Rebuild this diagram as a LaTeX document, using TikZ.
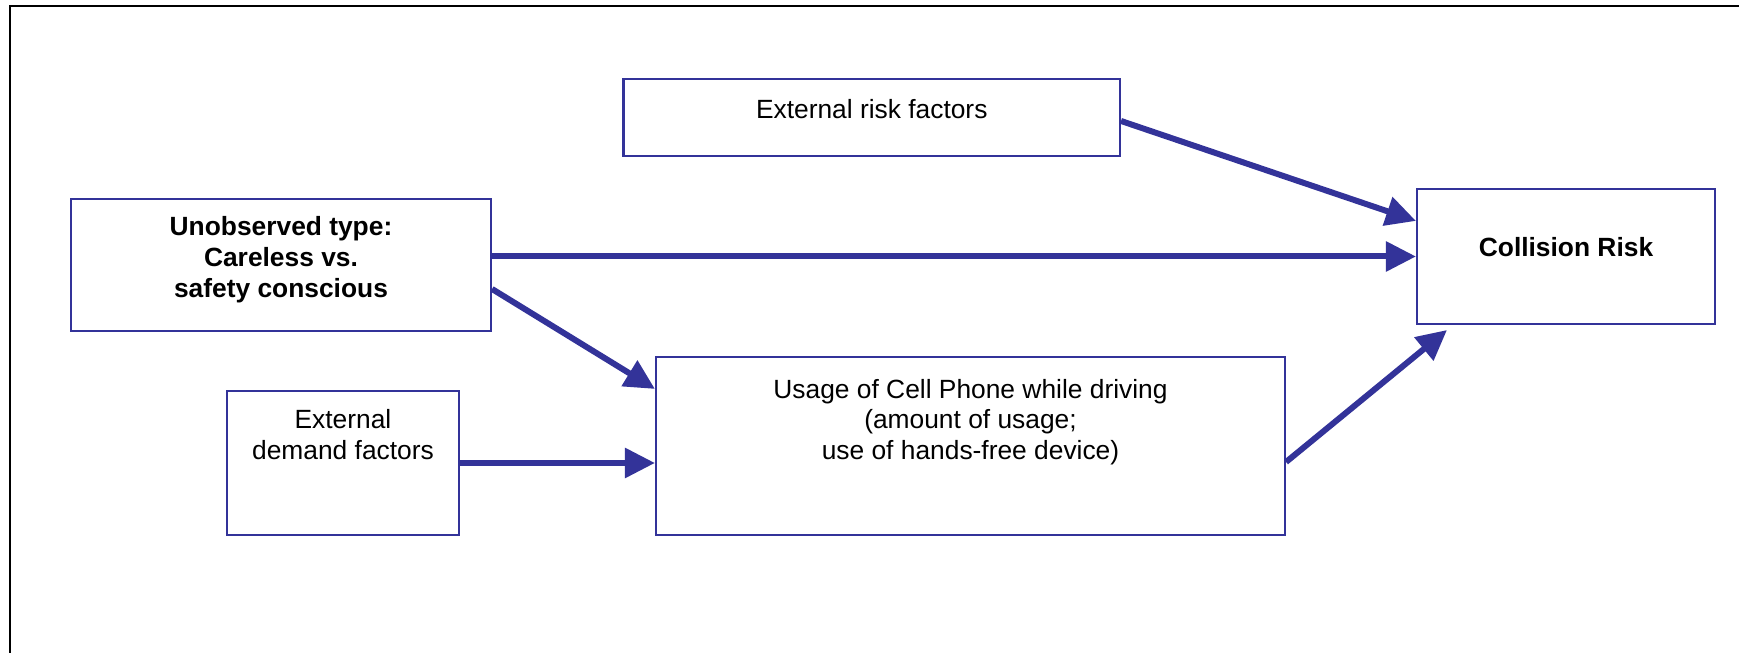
\documentclass[tikz,border=0pt]{standalone}
\usepackage{fontspec}
\setmainfont{Liberation Sans}
\usetikzlibrary{arrows.meta}
\definecolor{diagblue}{RGB}{51,51,153}

\begin{document}
\begin{tikzpicture}[
  factor/.style={draw=diagblue,line width=1.2pt,align=center,inner sep=0pt,
    font=\fontsize{15}{17.5}\selectfont},
  keyfactor/.style={factor,font=\fontsize{15}{17.5}\selectfont\bfseries},
  link/.style={color=diagblue,line width=3.4pt,-{Triangle[length=0.6cm,width=0.58cm]}}]

  \useasboundingbox (0,0) rectangle (34.78,13.06);
  \draw[line width=1.4pt] (0.2,0) -- (0.2,12.94) -- (34.78,12.94);

  \node[keyfactor,minimum width=8.4cm,minimum height=2.64cm,text height=1.65cm,text depth=0.36cm] at (5.62,7.76) (unobs) {Unobserved type:\\Careless vs.\\safety conscious};
  \node[factor,minimum width=9.93cm,minimum height=1.54cm,text height=0.45cm,text depth=0.41cm] at (17.435,10.71) (risk) {External risk factors};
  \node[keyfactor,minimum width=5.96cm,minimum height=2.7cm,text height=0.42cm,text depth=0.4cm] at (31.32,7.93) (coll) {Collision Risk};
  \node[factor,minimum width=4.64cm,minimum height=2.88cm,text height=1.0cm,text depth=1.15cm] at ([xshift=1.24cm,yshift=-3.96cm]unobs) (demand) {External\\demand factors};
  \node[factor,minimum width=12.58cm,minimum height=3.56cm,text height=1.5cm,text depth=0.95cm] at (19.41,4.14) (usage) {Usage of Cell Phone while driving\\(amount of usage;\\use of hands-free device)};

  \draw[link] ([yshift=-0.07cm]risk.east) -- ([yshift=-0.66cm]coll.north west);
  \draw[link] (unobs.east |- coll.west) -- (coll.west);
  \draw[link] ([yshift=-0.48cm]unobs.east) -- ([yshift=-0.66cm]usage.north west);
  \draw[link] (demand.east) -- (demand.east -| usage.west);
  \draw[link] ([yshift=-0.32cm]usage.east) -- ([xshift=0.62cm,yshift=-0.1cm]coll.south west);

\end{tikzpicture}
\end{document}
